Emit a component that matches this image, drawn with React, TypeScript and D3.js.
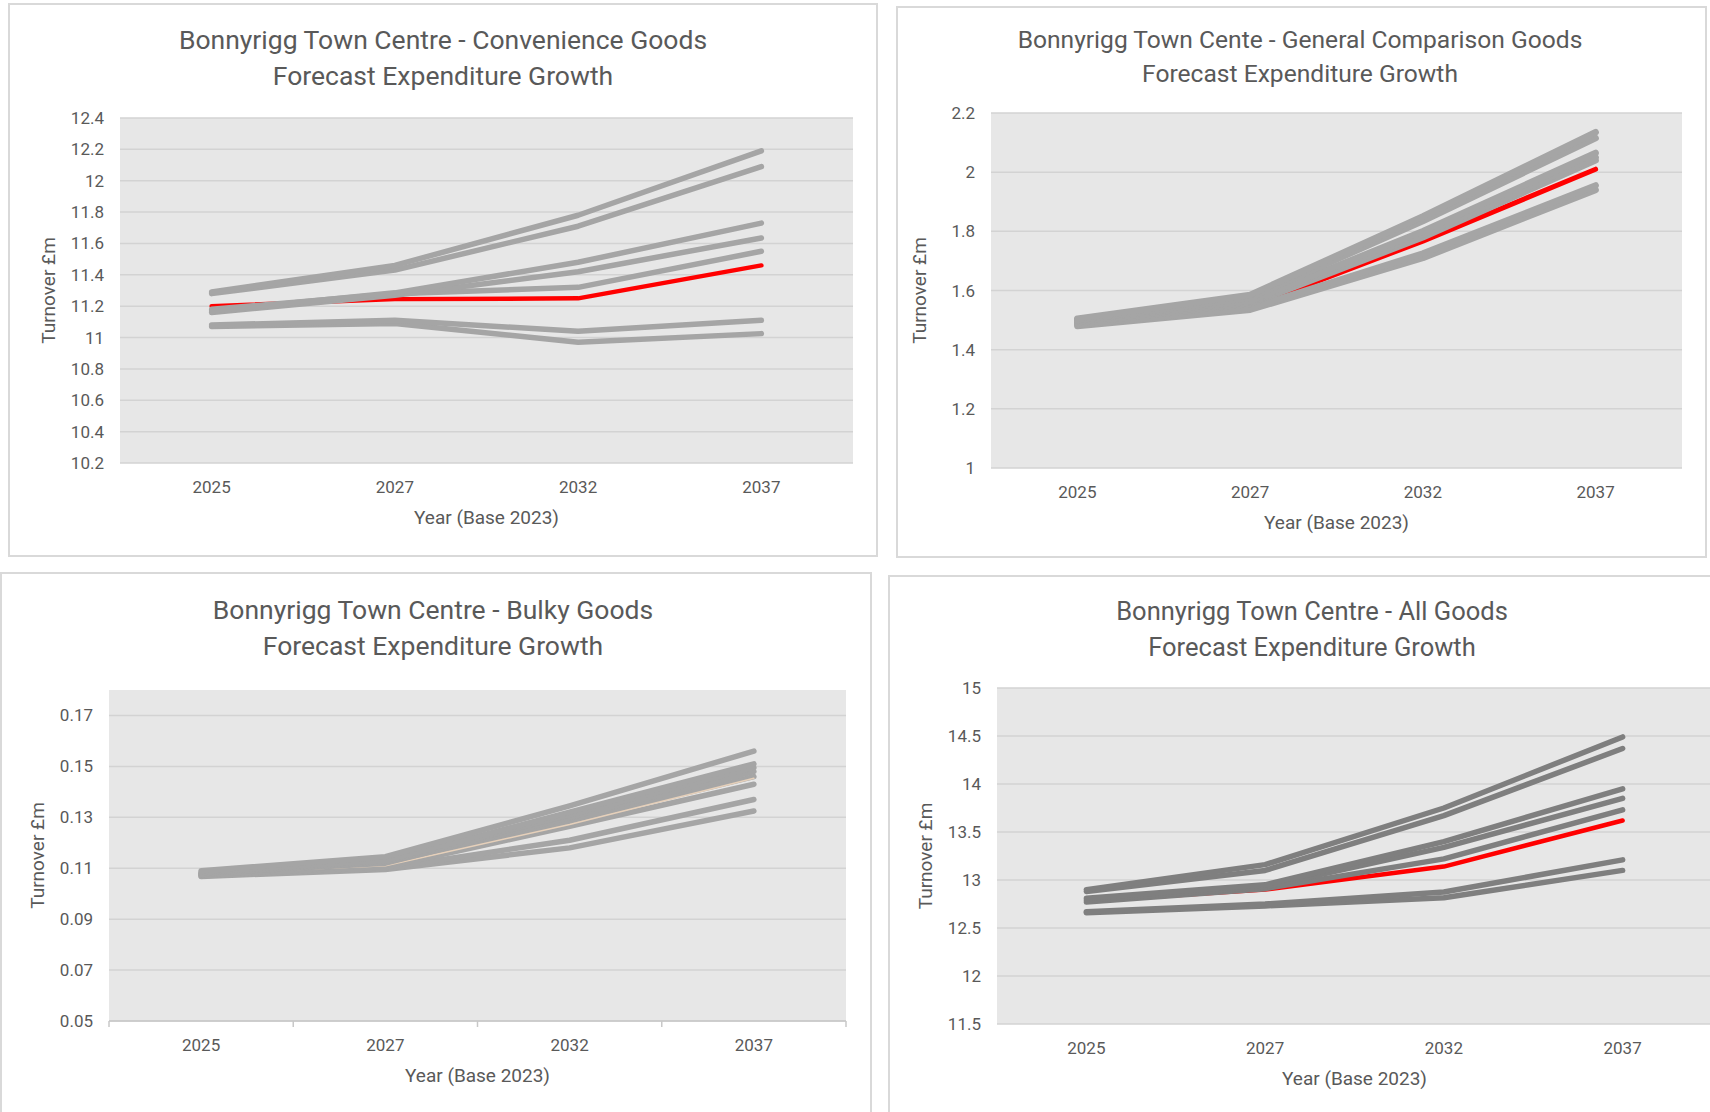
import React from "react";
import * as d3 from "d3";

// ---- Data ----------------------------------------------------------------
const years = ["2025", "2027", "2032", "2037"];

// Convenience goods turnover (£m)
const convA = [11.29, 11.46, 11.78, 12.19];
const convB = [11.28, 11.43, 11.71, 12.09];
const convC = [11.17, 11.285, 11.48, 11.73];
const convD = [11.16, 11.27, 11.42, 11.635];
const convE = [11.18, 11.28, 11.32, 11.55];
const convF = [11.08, 11.11, 11.04, 11.11];
const convG = [11.07, 11.09, 10.97, 11.025];
const convRed = [11.2, 11.245, 11.25, 11.46];

// General comparison goods turnover (£m)
const compA = [1.505, 1.585, 1.85, 2.135];
const compB = [1.5, 1.575, 1.835, 2.115];
const compC = [1.5, 1.565, 1.8, 2.065];
const compD = [1.495, 1.56, 1.79, 2.05];
const compE = [1.49, 1.555, 1.78, 2.04];
const compF = [1.485, 1.54, 1.725, 1.955];
const compG = [1.48, 1.535, 1.71, 1.94];
const compRed = [1.49, 1.545, 1.767, 2.01];

// Bulky goods turnover (£m)
const bulkyA = [0.109, 0.1145, 0.1345, 0.156];
const bulkyB = [0.1085, 0.113, 0.132, 0.151];
const bulkyC = [0.108, 0.1125, 0.131, 0.1495];
const bulkyD = [0.108, 0.112, 0.13, 0.148];
const bulkyE = [0.1075, 0.1115, 0.1285, 0.146];
const bulkyF = [0.1075, 0.1105, 0.1265, 0.143];
const bulkyG = [0.107, 0.11, 0.121, 0.137];
const bulkyH = [0.1068, 0.1095, 0.118, 0.1325];
const bulkyRed = [0.108, 0.111, 0.1272, 0.1453];

// All goods turnover (£m)
const allA = [12.9, 13.16, 13.75, 14.49];
const allB = [12.88, 13.1, 13.67, 14.37];
const allC = [12.81, 12.95, 13.4, 13.95];
const allD = [12.79, 12.93, 13.34, 13.85];
const allE = [12.77, 12.91, 13.22, 13.73];
const allF = [12.67, 12.75, 12.875, 13.21];
const allG = [12.66, 12.73, 12.815, 13.1];
const allRed = [12.78, 12.9, 13.14, 13.62];

// Axis ranges: [min, max, major step]
const convAxis = [10.2, 12.4, 0.2];
const compAxis = [1, 2.2, 0.2];
const bulkyAxis = [0.05, 0.18, 0.02];
const allAxis = [11.5, 15, 0.5];

const titleSub = "Forecast Expenditure Growth";
const xTitle = "Year (Base 2023)";
const yTitle = "Turnover £m";

// ---- Styling ---------------------------------------------------------------
const TEXT = "#595959";
const PLOT_BG = "#e7e7e7";
const GRID = "#d3d3d3";
const CARD_BORDER = "#d9d9d9";
const RED = "#ff0000";
const FONT = "Roboto, 'Open Sans', Arial, sans-serif";

type Series = { values: number[]; color: string; width: number };

type Panel = {
  title: string;
  card: [number, number, number, number];
  plot: [number, number, number, number];
  axis: number[];
  titleX: number;
  titleY: number;
  titleGap: number;
  titleSize: number;
  decimals: number;
  series: Series[];
  tickMarks?: boolean;
};

const grey = (values: number[], color = "#a5a5a5", width = 5.5): Series => ({ values, color, width });

// Series are listed bottom-most first; the highlighted series sits beneath the greys.
const panels: Panel[] = [
  {
    title: "Bonnyrigg Town Centre - Convenience Goods",
    card: [9, 4, 868, 552],
    plot: [120, 118, 853, 463],
    axis: convAxis,
    titleX: 443,
    titleY: 39,
    titleGap: 36,
    titleSize: 26.5,
    decimals: 1,
    series: [
      { values: convRed, color: RED, width: 4.5 },
      grey(convG), grey(convF), grey(convE), grey(convD), grey(convC), grey(convB), grey(convA),
    ],
  },
  {
    title: "Bonnyrigg Town Cente - General Comparison Goods",
    card: [897, 7, 809, 550],
    plot: [991, 113, 1682, 468],
    axis: compAxis,
    titleX: 1300,
    titleY: 39,
    titleGap: 34,
    titleSize: 24.6,
    decimals: 1,
    series: [
      { values: compRed, color: RED, width: 5 },
      grey(compG, "#a5a5a5", 6.5), grey(compF, "#a5a5a5", 6.5), grey(compE, "#a5a5a5", 6.5),
      grey(compD, "#a5a5a5", 6.5), grey(compC, "#a5a5a5", 6.5), grey(compB, "#a5a5a5", 6.5),
      grey(compA, "#a5a5a5", 6.5),
    ],
  },
  {
    title: "Bonnyrigg Town Centre - Bulky Goods",
    card: [1, 573, 870, 560],
    plot: [109, 690, 846, 1021],
    axis: bulkyAxis,
    titleX: 433,
    titleY: 609,
    titleGap: 36,
    titleSize: 26.5,
    decimals: 2,
    tickMarks: true,
    series: [
      grey(bulkyH), grey(bulkyG), grey(bulkyF), grey(bulkyE),
      { values: bulkyRed, color: "#e6d0ba", width: 1.5 },
      grey(bulkyD), grey(bulkyC), grey(bulkyB), grey(bulkyA),
    ],
  },
  {
    title: "Bonnyrigg Town Centre - All Goods",
    card: [889, 576, 840, 560],
    plot: [997, 688, 1712, 1024],
    axis: allAxis,
    titleX: 1312,
    titleY: 611,
    titleGap: 36,
    titleSize: 25.5,
    decimals: 1,
    series: [
      { values: allRed, color: RED, width: 4.5 },
      grey(allG, "#7f7f7f"), grey(allF, "#7f7f7f"), grey(allE, "#7f7f7f"), grey(allD, "#7f7f7f"),
      grey(allC, "#7f7f7f"), grey(allB, "#7f7f7f"), grey(allA, "#7f7f7f"),
    ],
  },
];

const fmt = (v: number, decimals: number) => String(+v.toFixed(decimals));

function ChartPanel({ p }: { p: Panel }) {
  const [x0, y0, x1, y1] = p.plot;
  const [min, max, step] = p.axis;
  const x = d3.scaleBand<string>().domain(years).range([x0, x1]).padding(0);
  const y = d3.scaleLinear().domain([min, max]).range([y1, y0]);
  const ticks = d3.range(0, Math.floor((max - min) / step + 1e-6) + 1).map((i) => +(min + i * step).toFixed(4));
  const cx = (yr: string) => (x(yr) as number) + x.bandwidth() / 2;
  const line = d3
    .line<number>()
    .x((_, i) => cx(years[i]))
    .y((v) => y(v));
  const plotCx = (x0 + x1) / 2;
  const plotCy = (y0 + y1) / 2;
  const [cxCard, cyCard, cw, ch] = p.card;

  return (
    <g>
      <rect x={cxCard} y={cyCard} width={cw} height={ch} fill="#ffffff" stroke={CARD_BORDER} strokeWidth={2} />
      <text x={p.titleX} y={p.titleY} textAnchor="middle" dominantBaseline="central" fill={TEXT} fontSize={p.titleSize} fontFamily={FONT}>
        {p.title}
      </text>
      <text x={p.titleX} y={p.titleY + p.titleGap} textAnchor="middle" dominantBaseline="central" fill={TEXT} fontSize={p.titleSize} fontFamily={FONT}>
        {titleSub}
      </text>
      <rect x={x0} y={y0} width={x1 - x0} height={y1 - y0} fill={PLOT_BG} />
      {ticks.map((t) => (
        <g key={t}>
          <line x1={x0} x2={x1} y1={y(t)} y2={y(t)} stroke={GRID} strokeWidth={1.5} />
          <text x={x0 - 16} y={y(t)} textAnchor="end" dominantBaseline="central" fill={TEXT} fontSize={17} fontFamily={FONT}>
            {fmt(t, p.decimals)}
          </text>
        </g>
      ))}
      {p.tickMarks && (
        <g>
          <line x1={x0} x2={x1} y1={y1} y2={y1} stroke="#c8c8c8" strokeWidth={1.5} />
          {years.concat([""]).map((yr, i) => {
            const xx = i < years.length ? (x(yr) as number) : x1;
            return <line key={i} x1={xx} x2={xx} y1={y1} y2={y1 + 6} stroke="#c8c8c8" strokeWidth={1.5} />;
          })}
        </g>
      )}
      {years.map((yr) => (
        <text key={yr} x={cx(yr)} y={y1 + 24} textAnchor="middle" dominantBaseline="central" fill={TEXT} fontSize={17} fontFamily={FONT}>
          {yr}
        </text>
      ))}
      <text x={plotCx} y={y1 + 54} textAnchor="middle" dominantBaseline="central" fill={TEXT} fontSize={19} fontFamily={FONT}>
        {xTitle}
      </text>
      <text
        transform={`translate(${x0 - 72},${plotCy}) rotate(-90)`}
        textAnchor="middle"
        dominantBaseline="central"
        fill={TEXT}
        fontSize={19}
        fontFamily={FONT}
      >
        {yTitle}
      </text>
      <g>
        {p.series.map((s, i) => (
          <path
            key={i}
            d={line(s.values) || ""}
            fill="none"
            stroke={s.color}
            strokeWidth={s.width}
            strokeLinejoin="round"
            strokeLinecap="round"
          />
        ))}
      </g>
    </g>
  );
}

export default function App() {
  return (
    <svg
      width={1710}
      height={1112}
      viewBox="0 0 1710 1112"
      style={{ position: "absolute", left: 0, top: 0, background: "#ffffff" }}
    >
      <rect width={1710} height={1112} fill="#ffffff" />
      {panels.map((p) => (
        <ChartPanel key={p.title} p={p} />
      ))}
    </svg>
  );
}
